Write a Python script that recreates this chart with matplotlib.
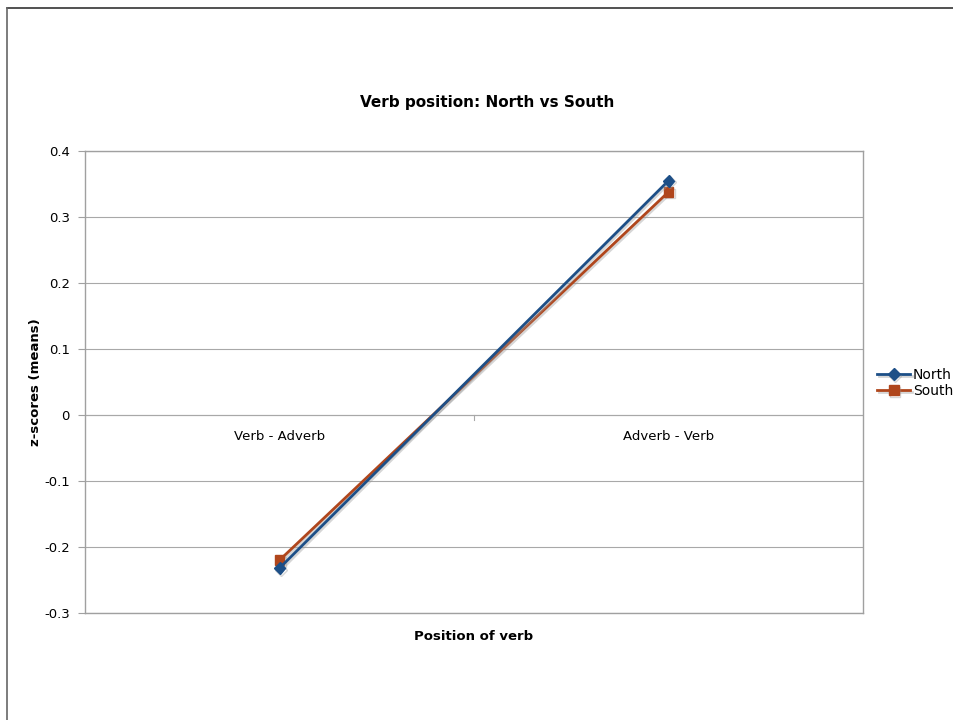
import matplotlib
matplotlib.use("Agg")
import matplotlib.pyplot as plt
import matplotlib.patheffects as pe
from matplotlib.lines import Line2D

categories = ["Verb - Adverb", "Adverb - Verb"]
north = [-0.232, 0.355]
south = [-0.220, 0.338]
yticks = [-0.3, -0.2, -0.1, 0, 0.1, 0.2, 0.3, 0.4]

W, H = 954, 720
fig = plt.figure(figsize=(W / 100, H / 100), dpi=100)
ax = fig.add_axes([85 / W, 1 - 613 / H, (863 - 85) / W, (613 - 151) / H])

x = [0.5, 1.5]
shadow = [pe.SimpleLineShadow(offset=(1.2, -1.2), shadow_color="0.6", alpha=0.4), pe.Normal()]
ax.plot(x, north, color="#1d4f87", lw=2.0, marker="D", ms=6, label="North",
        path_effects=shadow, zorder=4)
ax.plot(x, south, color="#b0461c", lw=2.0, marker="s", ms=7, label="South",
        path_effects=shadow, zorder=3)

ax.set_xlim(0, 2)
ax.set_ylim(-0.3, 0.4)
ax.set_yticks(yticks)
ax.set_yticklabels([f"{v:g}" for v in yticks])
ax.set_xticks([])
ax.grid(axis="y", color="#a8a8a8", lw=0.8)
ax.set_axisbelow(True)
for s in ax.spines.values():
    s.set_color("#a0a0a0")
    s.set_linewidth(1.0)
ax.tick_params(axis="y", length=5, color="#a0a0a0", labelsize=9.5, pad=6)

# category axis sits on the zero line
ax.axhline(0, color="#a8a8a8", lw=0.8, zorder=1)
ax.plot([1, 1], [0, -0.008], color="#a8a8a8", lw=0.8, zorder=1)
for xi, cat in zip(x, categories):
    ax.text(xi, -0.033, cat, ha="center", va="center", fontsize=9.5)

fig.text(487 / W, 1 - 103 / H, "Verb position: North vs South", ha="center", va="center",
         fontsize=11, fontweight="bold")
fig.text(474 / W, 1 - 636 / H, "Position of verb", ha="center", va="center",
         fontsize=9.5, fontweight="bold")
fig.text(35 / W, 1 - 382 / H, "z-scores (means)", ha="center", va="center",
         rotation=90, fontsize=9.5, fontweight="bold")

fig.legend(loc="center left", bbox_to_anchor=(877 / W, 1 - 383 / H), frameon=False,
           fontsize=10, handlelength=2.4, handletextpad=0.2, labelspacing=0.15,
           borderaxespad=0, borderpad=0)

# outer page border
fig.add_artist(Line2D([7 / W, 1], [1 - 8 / H, 1 - 8 / H], color="#333333", lw=1.2))
fig.add_artist(Line2D([7 / W, 7 / W], [0, 1 - 8 / H], color="#666666", lw=1.2))

fig.savefig("out.png", dpi=100)
